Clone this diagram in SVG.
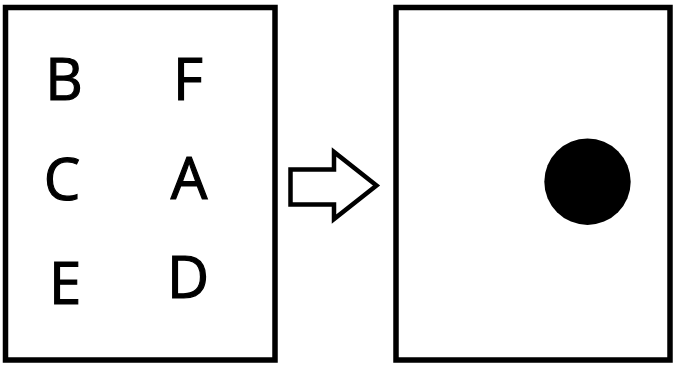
<svg xmlns="http://www.w3.org/2000/svg" width="679" height="367" viewBox="0 0 679 367">
<style>
.box{fill:#fff;stroke:#000;stroke-width:5.5}
.lbl{font-family:"Open Sans","Liberation Sans",sans-serif;font-size:58px;fill:#000;stroke:#000;stroke-width:1.2;text-anchor:middle}
</style>
<rect width="679" height="367" fill="#fff"/>
<g id="left">
<rect class="box" x="5.5" y="7.5" width="269.5" height="352.5"/>
<text class="lbl" x="64" y="100">B</text>
<text class="lbl" x="188" y="100">F</text>
<text class="lbl" x="62" y="200">C</text>
<text class="lbl" x="189" y="199">A</text>
<text class="lbl" x="65" y="304">E</text>
<text class="lbl" x="188" y="298">D</text>
</g>
<g id="connectors">
<polygon points="290.5,169.5 334,169.5 334,152 376.5,185.5 334,219 334,204.5 290.5,204.5" fill="#fff" stroke="#000" stroke-width="4.5" stroke-linejoin="miter"/>
</g>
<g id="right">
<rect class="box" x="396" y="7.5" width="274" height="352.5"/>
<circle cx="587.5" cy="181.7" r="43.2" fill="#000"/>
</g>
</svg>
